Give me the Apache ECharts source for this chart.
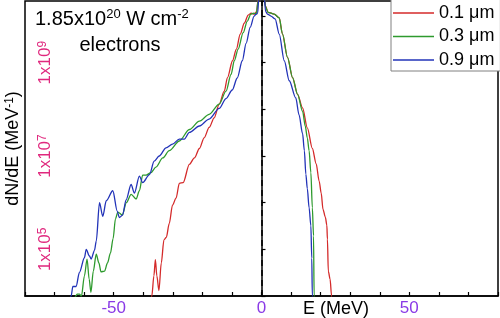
<!DOCTYPE html>
<html><head><meta charset="utf-8">
<script src="https://cdn.jsdelivr.net/npm/echarts@6/dist/echarts.min.js"></script>
<style>html,body{margin:0;padding:0;background:#fff}#c{width:500px;height:318px}</style>
</head><body><div id="c"></div>
<script>
const seriesNames = ['0.1 μm', '0.3 μm', '0.9 μm'];
const colors = ['#d42a2a', '#2e9a2e', '#2233b8'];

// Red, 0.1 um
const redE = [-37.4,-37.1,-36.4,-35.9,-35.4,-34.7,-33.9,-33.0,-32.2,-31.2,-30.1,-28.9,-27.8,-26.5,-24.4,-22.7,-21.0,-19.4,-17.7,-16.0,-14.3,-12.6,-11.5,-9.8,-8.5,-7.2,-5.8,-4.5,-3.5,-2.5,-1.6,-1.0,0,0.8,1.4,2.2,4.3,6.0,7.1,8.8,10.5,12.2,13.9,15.5,17.2,18.5,19.5,20.2,20.8,21.6,22.1,22.3,22.6,23.2,23.7,23.8];
const redV = [8e3,1.0e4,2.7e4,6.0e4,2.7e4,1.3e4,5.1e4,1.6e5,1.8e5,3.6e5,8.9e5,1.25e6,2.6e6,2.7e6,6.6e6,9.1e6,1.45e7,2.45e7,4.1e7,6.6e7,1.3e8,2.45e8,4.8e8,1.1e9,1.95e9,4.1e9,7.1e9,1.05e10,1.15e10,1.1e10,1.25e10,3.2e10,1e11,3.2e10,1.6e10,1.2e10,1.1e10,9.1e9,4.1e9,1.3e9,4.8e8,2.1e8,1.07e8,4.0e7,1.45e7,6.8e6,2.9e6,1.6e6,7.2e5,4.9e5,3.3e5,1.65e5,3.4e4,2.3e4,1.0e4,5e3];

// Green, 0.3 um
const greenE = [-63.2,-62.9,-62.3,-61.6,-60.9,-59.9,-59.0,-58.3,-57.7,-56.9,-55.9,-55.0,-54.3,-53.1,-52.1,-51.1,-50.2,-49.4,-48.6,-47.1,-45.7,-44.1,-42.4,-41.3,-40.2,-39.0,-37.4,-35.7,-33.4,-31.2,-27.8,-24.4,-21.0,-17.7,-14.3,-12.0,-10.3,-9.2,-7.9,-6.2,-4.8,-3.6,-2.6,-1.8,-1.2,-0.6,0,0.7,1.3,2.2,4.3,6.0,7.1,8.8,10.5,12.2,13.9,14.8,15.5,16.1,16.7,17.2,17.6,17.8,17.9];
const greenV = [8e3,1.0e4,1.1e4,1.1e4,1.0e4,2.7e4,6.2e4,2.3e4,1.2e4,3.4e4,7.9e4,5.1e4,3.3e4,3.4e4,5.1e4,8.3e4,1.7e5,4.5e5,6.3e5,5.5e5,1.0e6,1.5e6,1.2e6,1.8e6,3.9e6,3.9e6,4.4e6,5.8e6,9.1e6,1.3e7,2.1e7,3.7e7,5.6e7,7.8e7,1.3e8,2.45e8,5.6e8,1.1e9,1.95e9,4.4e9,7.8e9,1.1e10,1.15e10,1.1e10,2e10,6.3e10,1e11,5e10,1.6e10,1.2e10,1.1e10,9.1e9,4.1e9,1.3e9,4.8e8,2.1e8,9.1e7,4.4e7,2.45e7,1.3e7,4.4e6,7.8e5,1.95e5,1.0e4,5e3];

// Blue, 0.9 um
const blueE = [-64.9,-64.4,-63.8,-62.7,-61.6,-59.9,-59.3,-58.2,-57.6,-56.5,-55.9,-54.8,-53.7,-52.5,-50.3,-48.8,-48.1,-47.0,-45.8,-44.1,-43.0,-41.3,-40.2,-37.9,-36.3,-34.6,-32.3,-30.1,-27.8,-26.1,-24.4,-21.0,-17.7,-14.3,-12.0,-9.9,-8.2,-6.5,-5.2,-3.8,-2.5,-1.8,-1.3,-0.8,0,0.8,1.4,2.0,3.2,4.6,6.0,7.7,9.4,11.6,12.7,13.9,14.5,15.0,15.5,16.1,16.7,17.0,17.2,17.3];
const blueV = [8e3,1.0e4,1.6e4,1.6e4,3.2e4,6.6e4,1.0e5,7.2e4,6.2e4,9.5e4,1.5e5,1.0e6,5.1e5,1.1e6,1.8e6,6.6e5,4.8e5,5.4e5,1.15e6,2.45e6,1.6e6,3.7e6,2.7e6,4.0e6,7.8e6,1.0e7,1.5e7,1.8e7,2.3e7,2.3e7,3.2e7,4.4e7,6.2e7,1.05e8,1.7e8,2.6e8,4.7e8,1.1e9,2.6e9,5.8e9,1.0e10,1.1e10,1.15e10,3.2e10,1e11,3.2e10,1.25e10,1.1e10,1.0e10,8.7e9,4.1e9,1.1e9,4.1e8,1.75e8,7.6e7,3.0e7,1.3e7,4.1e6,2.0e6,7.8e5,3.2e5,6.5e4,1.0e4,5e3];

const xTickLabels = [-50, 0, 50];
const yLabelExps = [5, 7, 9];

const FONT = '"Liberation Sans", Arial, sans-serif';
function pairs(e, v) { return e.map((x, i) => [x, v[i]]); }
const allE = [redE, greenE, blueE];
const allV = [redV, greenV, blueV];

const chart = echarts.init(document.getElementById('c'), null, {renderer: 'canvas'});
const series = seriesNames.map((name, i) => ({
  name, type: 'line', data: pairs(allE[i], allV[i]),
  symbol: 'none', smooth: 0.3, smoothMonotone: 'x', clip: true,
  lineStyle: {color: colors[i], width: 1.3}, itemStyle: {color: colors[i]},
  z: 3 + i
}));
series[0].markLine = {
  silent: true, symbol: ['none', 'none'], label: {show: false},
  lineStyle: {color: '#000', type: [6, 4], width: 1.5},
  data: [{xAxis: 0}]
};

chart.setOption({
  animation: false,
  textStyle: {fontFamily: FONT},
  grid: {left: 25, right: 2, top: 1, bottom: 22, outerBoundsMode: 'none', containLabel: false,
    show: true, borderColor: '#000', borderWidth: 1.5, backgroundColor: 'transparent'},
  xAxis: {
    type: 'value', min: -80, max: 80, interval: 10,
    axisLine: {lineStyle: {color: '#000', width: 1.5}},
    axisTick: {inside: true, length: 4, lineStyle: {color: '#000', width: 1.2}},
    splitLine: {show: false},
    axisLabel: {
      color: '#8a3ae6', fontSize: 17, margin: 4, fontFamily: FONT,
      formatter: v => xTickLabels.indexOf(v) >= 0 ? String(v) : ''
    },
    name: 'E (MeV)', nameLocation: 'middle', nameGap: 4, nameMoveOverlap: false,
    nameTextStyle: {color: '#000', fontSize: 18, fontFamily: FONT, padding: [0, 0, 0, 149], verticalAlign: 'top'}
  },
  yAxis: {
    type: 'log', logBase: 10, min: 1e4, max: 2.1e10, interval: 1,
    axisLine: {lineStyle: {color: '#000', width: 1.5}},
    axisTick: {inside: true, length: 4, lineStyle: {color: '#000', width: 1.2}},
    splitLine: {show: false},
    axisLabel: {
      inside: true, rotate: 90, margin: 12, color: '#e0287e', fontSize: 17, fontFamily: FONT,
      formatter: v => {
        const e = Math.round(Math.log10(v));
        if (Math.abs(Math.log10(v) - e) > 1e-6) return '';
        return yLabelExps.indexOf(e) >= 0 ? '1x10{sup|' + e + '}' : '';
      },
      rich: {sup: {fontSize: 12, verticalAlign: 'top', color: '#e0287e', fontFamily: FONT}}
    },
    name: 'dN/dE (MeV{sup|-1})', nameLocation: 'middle', nameRotate: 90, nameGap: 3, nameMoveOverlap: false,
    nameTextStyle: {color: '#000', fontSize: 18, fontFamily: FONT,
      rich: {sup: {fontSize: 12, verticalAlign: 'top', color: '#000', fontFamily: FONT}}}
  },
  legend: {
    data: seriesNames, left: 391, top: -4, orient: 'vertical', icon: 'rect',
    itemWidth: 41, itemHeight: 1.5, itemGap: 5.5, padding: [8, 6, 2, 2],
    backgroundColor: '#fff', borderColor: '#808080', borderWidth: 1,
    textStyle: {fontSize: 18, color: '#000', fontFamily: FONT, lineHeight: 18}
  },
  graphic: [
    {type: 'text', z: 50, style: {x: 35, y: 8, text: '1.85x10{sup|20} W cm{sup|-2}',
      fill: '#000', font: '20px ' + FONT, lineHeight: 22,
      rich: {sup: {fontSize: 13, verticalAlign: 'top', lineHeight: 13, fill: '#000', fontFamily: FONT}}}},
    {type: 'text', z: 50, style: {x: 120, y: 35, text: 'electrons', fill: '#000', font: '20px ' + FONT, align: 'center'}}
  ],
  series
});
</script></body></html>
